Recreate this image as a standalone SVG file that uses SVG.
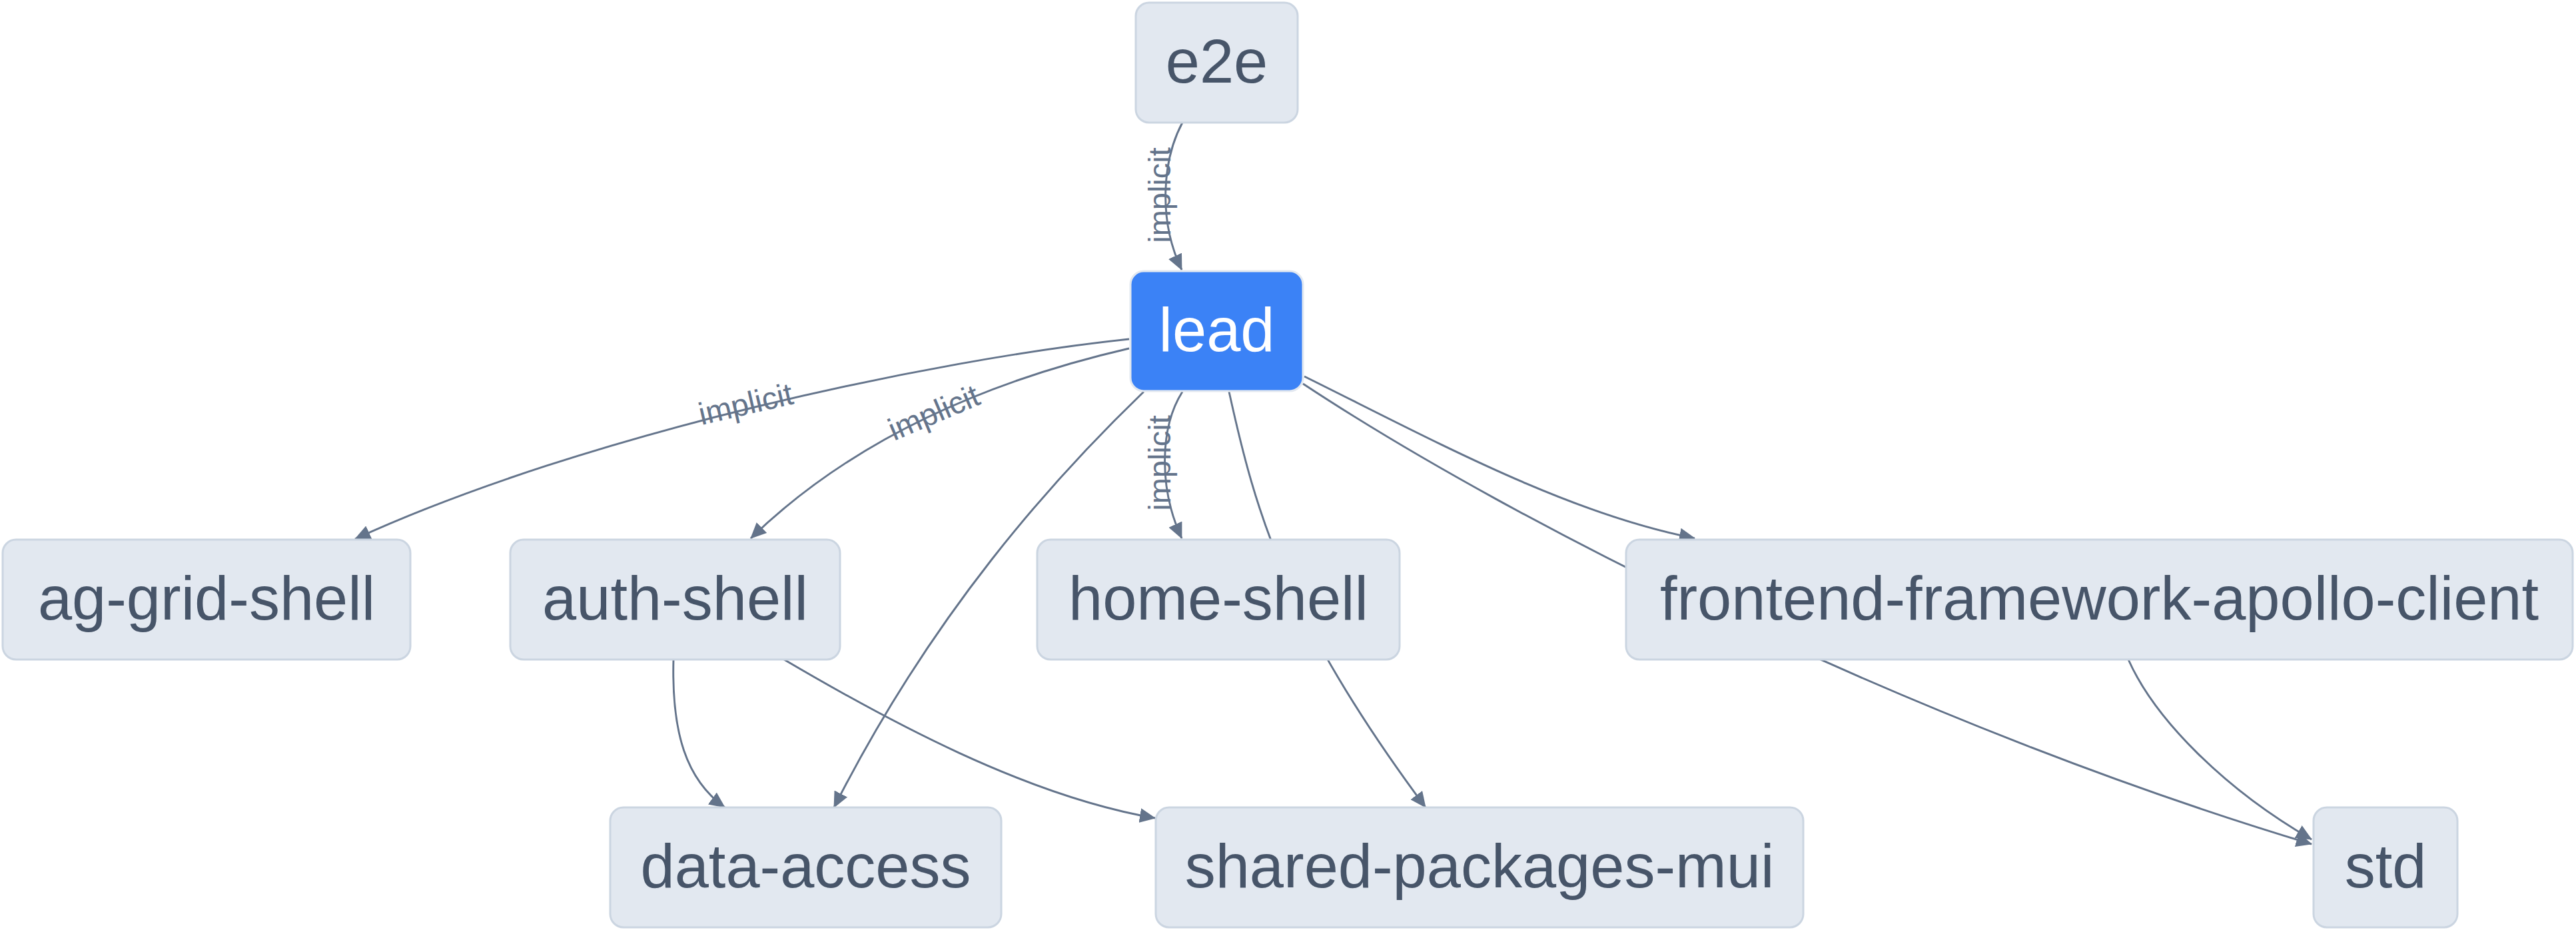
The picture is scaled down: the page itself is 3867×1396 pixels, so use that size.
<svg xmlns="http://www.w3.org/2000/svg" width="3867" height="1396" viewBox="0 0 3867 1396">
<defs>
<style>
.edge{fill:none;stroke:#64748b;stroke-width:2.9;marker-end:url(#arrow)}
.lbl{font-family:"Liberation Sans",Arial,Helvetica,sans-serif;font-size:47px;fill:#64748b;text-anchor:middle}
.box{fill:#e2e8f0;stroke:#cbd5e1;stroke-width:3}
.box-lead{fill:#3b82f6;stroke:#e2e8f0;stroke-width:3}
.txt{font-family:"Liberation Sans",Arial,Helvetica,sans-serif;font-size:92px;fill:#475569;text-anchor:middle}
.txt-lead{font-family:"Liberation Sans",Arial,Helvetica,sans-serif;font-size:92px;fill:#ffffff;text-anchor:middle}
</style>
<marker id="arrow" markerUnits="userSpaceOnUse" viewBox="0 0 24 22" markerWidth="24" markerHeight="22" refX="23" refY="11" orient="auto">
<path d="M0,0 L24,11 L0,22 z" fill="#64748b"/>
</marker>
</defs>
<rect x="0" y="0" width="3867" height="1396" fill="#ffffff"/>
<g id="connectors">
<path class="edge" d="M1775,184 C1745,240 1738,330 1774,405"/>
<path class="edge" d="M1695,509 C1400,540 880,650 533,809"/>
<path class="edge" d="M1695,523 C1500,568 1290,650 1127,808"/>
<path class="edge" d="M1717,588 C1580,720 1400,920 1252,1212"/>
<path class="edge" d="M1775,588 C1742,640 1738,730 1774,808"/>
<path class="edge" d="M1845,588 C1885,770 1930,930 2140,1212"/>
<path class="edge" d="M1958,565 C2150,660 2350,770 2544,808"/>
<path class="edge" d="M1956,576 C2280,790 2880,1090 3470,1267"/>
<path class="edge" d="M3195,990 C3235,1080 3340,1185 3470,1260"/>
<path class="edge" d="M1011,990 C1008,1100 1030,1170 1088,1212"/>
<path class="edge" d="M1177,990 C1330,1080 1540,1195 1734,1228"/>
<text class="lbl" transform="translate(1757,293) rotate(-90)">implicit</text>
<text class="lbl" transform="translate(1123,622) rotate(-13)">implicit</text>
<text class="lbl" transform="translate(1408,634) rotate(-23)">implicit</text>
<text class="lbl" transform="translate(1757,695) rotate(-90)">implicit</text>
</g>
<g id="node-e2e">
<rect class="box" x="1705" y="4" width="243" height="180" rx="20"/>
<text class="txt" x="1826.5" y="124">e2e</text>
</g>
<g id="node-lead">
<rect class="box-lead" x="1697" y="407" width="259" height="180" rx="20"/>
<text class="txt-lead" x="1826.5" y="527">lead</text>
</g>
<g id="node-ag-grid-shell">
<rect class="box" x="4" y="810" width="612" height="180" rx="20"/>
<text class="txt" x="310" y="930">ag-grid-shell</text>
</g>
<g id="node-auth-shell">
<rect class="box" x="766" y="810" width="495" height="180" rx="20"/>
<text class="txt" x="1013.5" y="930">auth-shell</text>
</g>
<g id="node-home-shell">
<rect class="box" x="1557" y="810" width="544" height="180" rx="20"/>
<text class="txt" x="1829" y="930">home-shell</text>
</g>
<g id="node-frontend-framework-apollo-client">
<rect class="box" x="2441" y="810" width="1421" height="180" rx="20"/>
<text class="txt" x="3151.5" y="930">frontend-framework-apollo-client</text>
</g>
<g id="node-data-access">
<rect class="box" x="916" y="1212" width="587" height="180" rx="20"/>
<text class="txt" x="1209.5" y="1332">data-access</text>
</g>
<g id="node-shared-packages-mui">
<rect class="box" x="1735" y="1212" width="972" height="180" rx="20"/>
<text class="txt" x="2221" y="1332">shared-packages-mui</text>
</g>
<g id="node-std">
<rect class="box" x="3473" y="1212" width="216" height="180" rx="20"/>
<text class="txt" x="3581" y="1332">std</text>
</g>
</svg>
